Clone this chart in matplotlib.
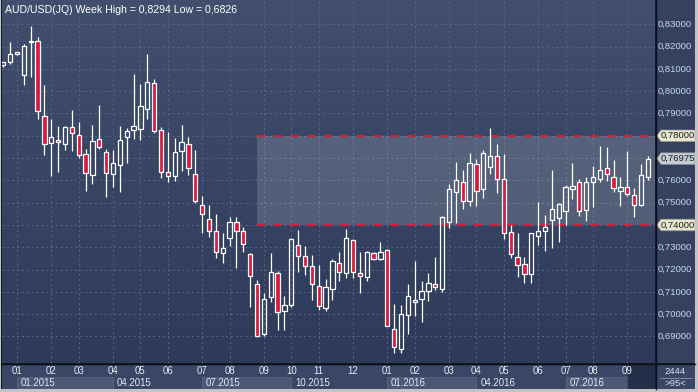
import matplotlib
matplotlib.use("Agg")
import matplotlib.pyplot as plt
import numpy as np
from matplotlib.patches import Rectangle, Polygon
from matplotlib.colors import LinearSegmentedColormap

# ---------------- data ----------------
opens = [0.8116, 0.8130, 0.8165, 0.8071, 0.8219, 0.8225, 0.7887, 0.7766, 0.7781, 0.7765,
         0.7838, 0.7802, 0.7717, 0.7623, 0.7784, 0.7726, 0.7630, 0.7668, 0.7793, 0.7825,
         0.7829, 0.7919, 0.8035, 0.7825, 0.7636, 0.7618, 0.7730, 0.7762, 0.7627, 0.7490,
         0.7426, 0.7372, 0.7273, 0.7340, 0.7412, 0.7372, 0.7269, 0.7134, 0.6913, 0.7078,
         0.7183, 0.7013, 0.7043, 0.7309, 0.7260, 0.7215, 0.7125, 0.7026, 0.7112, 0.7228,
         0.7183, 0.7331, 0.7183, 0.7165, 0.7273, 0.7246, 0.7289, 0.6932, 0.6845, 0.6998,
         0.7056, 0.7070, 0.7103, 0.7134, 0.7114, 0.7415, 0.7547, 0.7591, 0.7506, 0.7672,
         0.7560, 0.7659, 0.7708, 0.7605, 0.7367, 0.7255, 0.7224, 0.7179, 0.7349, 0.7372,
         0.7421, 0.7430, 0.7461, 0.7560, 0.7591, 0.7466, 0.7591, 0.7605, 0.7654, 0.7614,
         0.7551, 0.7569, 0.7533, 0.7488, 0.7614]
highs = [0.8130, 0.8220, 0.8176, 0.8212, 0.8294, 0.8244, 0.8028, 0.7875, 0.7844, 0.7844,
         0.7916, 0.7862, 0.7739, 0.7847, 0.7937, 0.7739, 0.7736, 0.7843, 0.7836, 0.8077,
         0.8032, 0.8167, 0.8053, 0.7838, 0.7817, 0.7790, 0.7847, 0.7795, 0.7736, 0.7530,
         0.7490, 0.7449, 0.7363, 0.7435, 0.7435, 0.7392, 0.7276, 0.7153, 0.7094, 0.7274,
         0.7194, 0.7082, 0.7340, 0.7378, 0.7306, 0.7265, 0.7219, 0.7157, 0.7246, 0.7278,
         0.7381, 0.7336, 0.7280, 0.7285, 0.7279, 0.7324, 0.7294, 0.7046, 0.7040, 0.7135,
         0.7239, 0.7149, 0.7185, 0.7256, 0.7441, 0.7583, 0.7683, 0.7647, 0.7723, 0.7695,
         0.7736, 0.7835, 0.7763, 0.7718, 0.7399, 0.7363, 0.7255, 0.7365, 0.7503, 0.7445,
         0.7647, 0.7500, 0.7580, 0.7677, 0.7605, 0.7614, 0.7665, 0.7754, 0.7750, 0.7690,
         0.7614, 0.7730, 0.7565, 0.7672, 0.7708]
lows = [0.8110, 0.8121, 0.8163, 0.8029, 0.8065, 0.7875, 0.7714, 0.7621, 0.7639, 0.7738,
        0.7733, 0.7702, 0.7554, 0.7585, 0.7742, 0.7527, 0.7572, 0.7549, 0.7679, 0.7787,
        0.7781, 0.7874, 0.7811, 0.7612, 0.7594, 0.7597, 0.7644, 0.7624, 0.7500, 0.7365,
        0.7345, 0.7253, 0.7228, 0.7307, 0.7209, 0.7280, 0.7034, 0.6899, 0.6904, 0.7056,
        0.6930, 0.6930, 0.7034, 0.7191, 0.7177, 0.7062, 0.7017, 0.7013, 0.7062, 0.7150,
        0.7164, 0.7164, 0.7094, 0.7150, 0.7242, 0.7242, 0.6945, 0.6826, 0.6828, 0.6911,
        0.6992, 0.6965, 0.7059, 0.7109, 0.7100, 0.7388, 0.7410, 0.7473, 0.7485, 0.7485,
        0.7521, 0.7629, 0.7545, 0.7336, 0.7251, 0.7168, 0.7139, 0.7141, 0.7309, 0.7282,
        0.7298, 0.7322, 0.7399, 0.7518, 0.7439, 0.7417, 0.7479, 0.7591, 0.7596, 0.7547,
        0.7485, 0.7529, 0.7437, 0.7486, 0.7600]
closes = [0.8129, 0.8165, 0.8174, 0.8203, 0.8225, 0.7910, 0.7762, 0.7793, 0.7771, 0.7838,
          0.7811, 0.7715, 0.7635, 0.7775, 0.7751, 0.7632, 0.7679, 0.7780, 0.7820, 0.7843,
          0.7932, 0.8041, 0.7820, 0.7639, 0.7621, 0.7726, 0.7771, 0.7654, 0.7509, 0.7451,
          0.7372, 0.7278, 0.7296, 0.7412, 0.7373, 0.7313, 0.7170, 0.6901, 0.7067, 0.7188,
          0.7009, 0.7040, 0.7336, 0.7260, 0.7215, 0.7134, 0.7035, 0.7121, 0.7237, 0.7188,
          0.7340, 0.7188, 0.7171, 0.7279, 0.7246, 0.7278, 0.6947, 0.6854, 0.6999, 0.7080,
          0.7062, 0.7103, 0.7141, 0.7121, 0.7435, 0.7560, 0.7600, 0.7506, 0.7677, 0.7551,
          0.7722, 0.7708, 0.7605, 0.7363, 0.7269, 0.7219, 0.7179, 0.7363, 0.7372, 0.7390,
          0.7470, 0.7493, 0.7569, 0.7574, 0.7461, 0.7591, 0.7614, 0.7645, 0.7627, 0.7565,
          0.7569, 0.7538, 0.7488, 0.7623, 0.7697]

month_ticks = [2, 7, 11, 16, 20, 24, 29, 33, 38, 42, 46, 51, 56, 60, 65, 69, 73, 78, 82, 86, 91]
month_labels = ["01", "02", "03", "04", "05", "06", "07", "08", "09", "10", "11", "12",
                "01", "02", "03", "04", "05", "06", "07", "08", "09"]
quarter_starts = [2, 16, 29, 42, 56, 69, 82]
quarter_labels = ["01.2015", "04.2015", "07.2015", "10.2015", "01.2016", "04.2016", "07.2016"]
quarter_shaded = [True, False, True, False, True, False, True]
price_ticks = [0.69, 0.70, 0.71, 0.72, 0.73, 0.74, 0.75, 0.76, 0.77, 0.78, 0.79, 0.80, 0.81, 0.82, 0.83]
zone_top, zone_bottom = 0.78, 0.74
zone_start = 37
last_price = 0.76975
bar_count_text = "2444"
visible_text = ">95<"
title = "AUD/USD(JQ) Week High = 0,8294 Low = 0,6826"

# ---------------- layout ----------------
W, H = 698, 392
FONT = "Liberation Sans"
fig = plt.figure(figsize=(W / 100, H / 100), dpi=100, facecolor="#c4c4c4")


def px(x0, y0, x1, y1):
    return [x0 / W, 1 - y1 / H, (x1 - x0) / W, (y1 - y0) / H]


fig.add_artist(Rectangle((1 / W, 1 - 389 / H), 694 / W, 389 / H, transform=fig.transFigure,
                         facecolor="#141a28", edgecolor="none", zorder=0))

ymin, ymax = 0.6781, 0.8409
xmin, xmax = -0.19, 95.05

# bottom panel
axb = fig.add_axes(px(2, 364, 655, 389))
axb.set_facecolor("#3a4665")
axb.set_xlim(xmin, xmax)
axb.set_ylim(0, 1)
axb.set_xticks([])
axb.set_yticks([])
for s in axb.spines.values():
    s.set_visible(False)
q_ends = quarter_starts[1:] + [month_ticks[-1]]
for qs, qe, lab, sh in zip(quarter_starts, q_ends, quarter_labels, quarter_shaded):
    if sh:
        axb.add_patch(Rectangle((qs, 0.0), qe - qs, 0.49, facecolor="#4b5775",
                                edgecolor="#5a6684", lw=0.6))
    axb.text(qs + 0.55, 0.25, lab, color="#e4eaf4", fontsize=6.9, family=FONT,
             ha="left", va="center")
for t, lab in zip(month_ticks, month_labels):
    axb.text(t, 0.70, lab, color="#e4eaf4", fontsize=6.9, family=FONT,
             ha="center", va="center")
axb.add_patch(Rectangle((month_ticks[-1], 0), xmax - month_ticks[-1], 1.0,
                        facecolor="#1e2740", alpha=0.75, edgecolor="#46516c", lw=0.6))

# right panel
tags = [(zone_top, "#e8e6cc"), (zone_bottom, "#e8e6cc"), (last_price, "#c6ccd4")]
axr = fig.add_axes(px(656, 0, 695, 363))
axr.set_facecolor("#35415f")
axr.set_xlim(0, 1)
axr.set_ylim(ymin, ymax)
axr.set_xticks([])
axr.set_yticks([])
for s in axr.spines.values():
    s.set_visible(False)
for p in price_ticks:
    if any(abs(p - tp) < 0.006 for tp, _ in tags):
        continue
    axr.text(0.05, p, f"{p:.5f}".replace(".", ","), color="#c4d8f2", fontsize=6.8,
             family=FONT, ha="left", va="center")
half = 5.8 / 2230
for p, fc in tags:
    axr.add_patch(Polygon([[0.02, p], [0.13, p + half], [1.0, p + half], [1.0, p - half],
                           [0.13, p - half]], closed=True, facecolor=fc,
                          edgecolor="#8a8f9a", lw=0.5, zorder=4))
    axr.text(0.11, p, f"{p:.5f}".replace(".", ","), color="#1c1c24", fontsize=6.8,
             family=FONT, ha="left", va="center", zorder=5)

# bottom-right panel
axc = fig.add_axes(px(656, 364, 695, 389))
axc.set_facecolor("#3a4665")
axc.set_xlim(0, 1)
axc.set_ylim(0, 1)
axc.set_xticks([])
axc.set_yticks([])
for s in axc.spines.values():
    s.set_visible(False)
axc.text(0.5, 0.70, bar_count_text, color="#d4e0f2", fontsize=6.8, family=FONT,
         ha="center", va="center")
axc.text(0.5, 0.24, visible_text, color="#d4e0f2", fontsize=6.8, family=FONT,
         ha="center", va="center")
axc.plot([0.1, 0.92], [0.45, 0.45], color="#8a96b0", lw=0.6)

# main axes
ax = fig.add_axes(px(2, 0, 655, 363))
ax.set_xlim(xmin, xmax)
ax.set_ylim(ymin, ymax)
grad = np.linspace(1, 0, 256).reshape(-1, 1)
cmap = LinearSegmentedColormap.from_list("bg", ["#2d3a59", "#414e6d"])
ax.imshow(grad, extent=[xmin, xmax, ymin, ymax], aspect="auto", cmap=cmap,
          origin="upper", zorder=0)
ax.set_xticks([])
ax.set_yticks([])
for s in ax.spines.values():
    s.set_visible(False)

ax.hlines(price_ticks, xmin, xmax, colors="#58668a", linestyles=(0, (2, 3)), lw=0.7, zorder=1)
ax.vlines(month_ticks, ymin, ymax, colors="#58668a", linestyles=(0, (2, 3)), lw=0.7, zorder=1)

ax.fill_between([zone_start, xmax], zone_bottom, zone_top, color="white", alpha=0.15,
                lw=0, zorder=1.5)
ax.hlines([zone_top, zone_bottom], zone_start, xmax, colors="#d42034",
          linestyles=(0, (4, 4)), lw=1.5, zorder=1.6)

o = np.array(opens)
c = np.array(closes)
h = np.array(highs)
l = np.array(lows)
x = np.arange(len(o))
top = np.maximum(o, c)
bot = np.minimum(o, c)
ax.vlines(x, top, h, colors="white", lw=0.9, zorder=2)
ax.vlines(x, l, bot, colors="white", lw=0.9, zorder=2)
up = c >= o
dn = ~up
ax.bar(x[up], np.maximum(top[up] - bot[up], 0.00012), bottom=bot[up], width=0.62,
       facecolor="none", edgecolor="white", lw=0.9, zorder=3)
ax.bar(x[dn], np.maximum(top[dn] - bot[dn], 0.00012), bottom=bot[dn], width=0.62,
       facecolor="#dc1a3e", edgecolor="white", lw=0.9, zorder=3)

ax.text(0.004, 1 - 10 / 363, title, transform=ax.transAxes, color="white", fontsize=7.6,
        family=FONT, ha="left", va="center", zorder=6)

# separator lines
fig.add_artist(plt.Line2D([655.5 / W, 655.5 / W], [1 - 389 / H, 1], transform=fig.transFigure,
                          color="#0c0f18", lw=1.0))
fig.add_artist(plt.Line2D([2 / W, 695 / W], [1 - 363.5 / H, 1 - 363.5 / H],
                          transform=fig.transFigure, color="#0c0f18", lw=1.0))

fig.savefig("out.png", dpi=100, facecolor=fig.get_facecolor())
